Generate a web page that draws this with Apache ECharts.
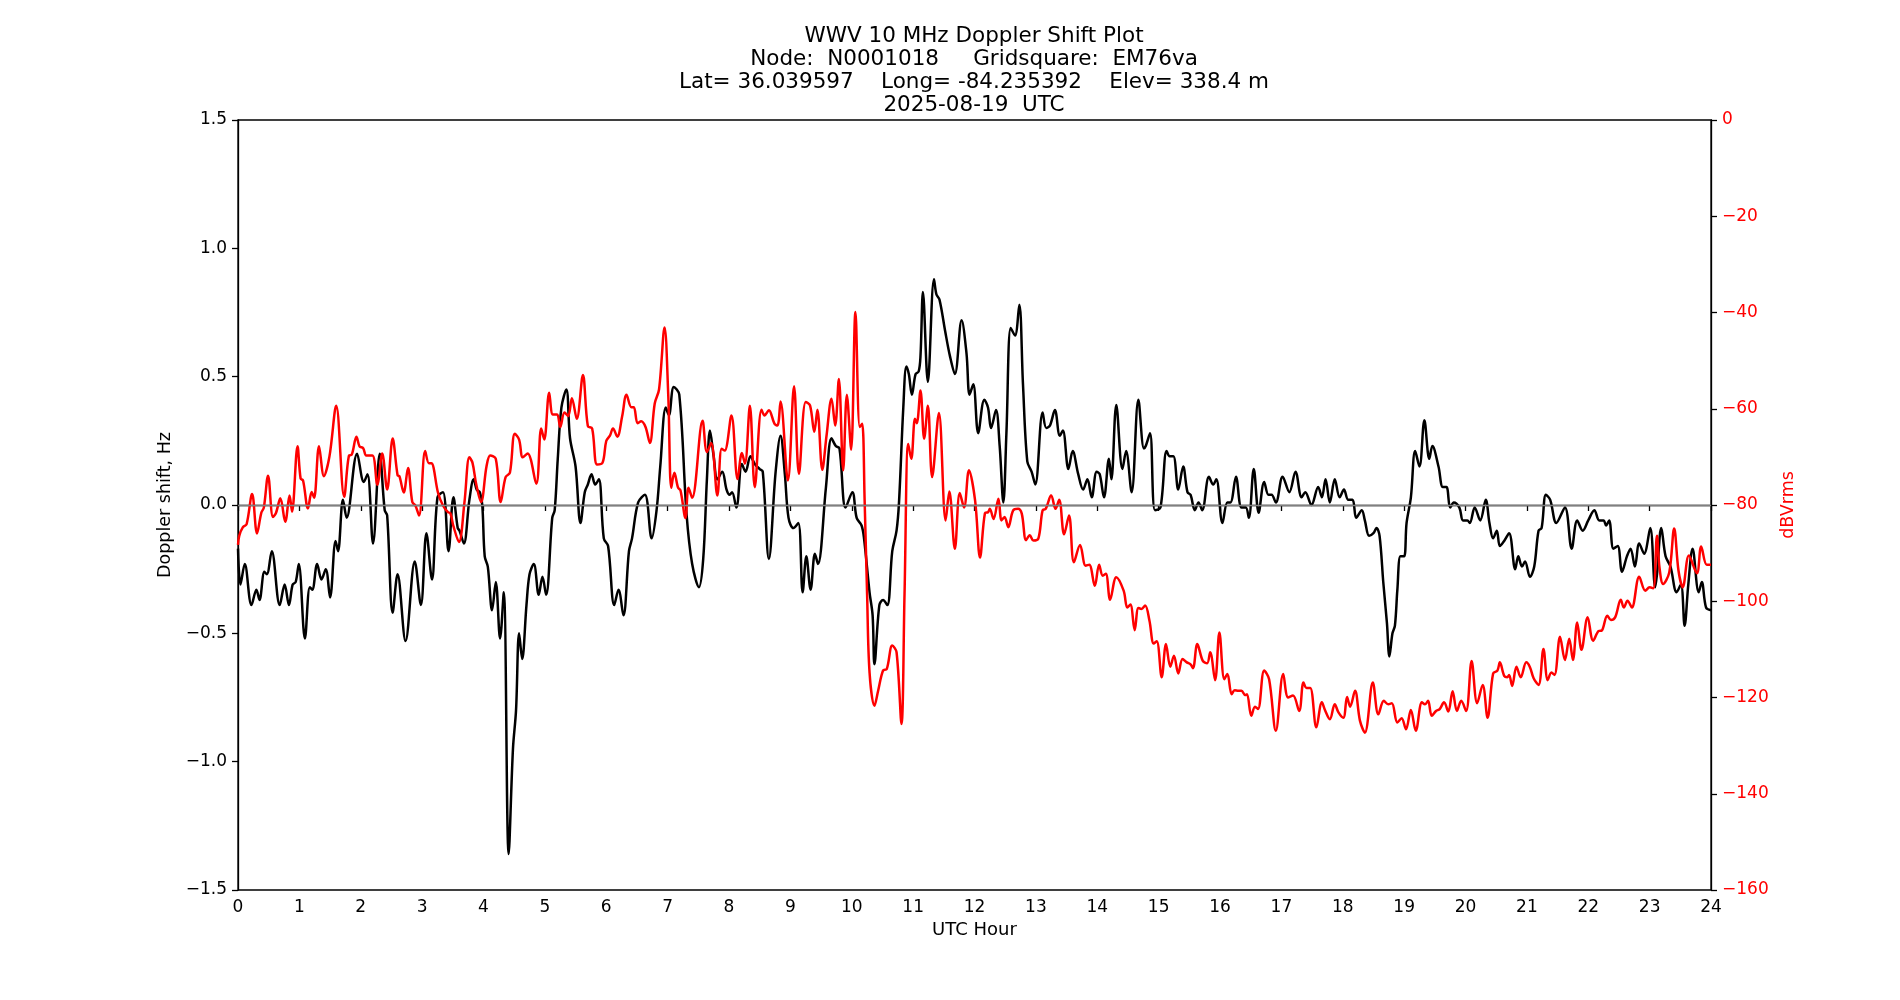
<!DOCTYPE html>
<html>
<head>
    <meta charset="utf-8" />
    <title>WWV 10 MHz Doppler Shift Plot</title>
    <script src="https://cdn.jsdelivr.net/npm/echarts@6/dist/echarts.min.js"></script>
    <style>
        html, body { margin: 0; padding: 0; background: #fff; }
        #chart { width: 1900px; height: 1000px; }
    </style>
</head>
<body>
    <div id="chart"></div>
    <script type="text/javascript">
        // 标题
        const titleLines = [
            'WWV 10 MHz Doppler Shift Plot',
            'Node:  N0001018     Gridsquare:  EM76va',
            'Lat= 36.039597    Long= -84.235392    Elev= 338.4 m',
            '2025-08-19  UTC'
        ];

        // 多普勒频移 (Hz), UTC 小时
        const dopplerTime = [
            0.00, 0.04, 0.11, 0.22, 0.30, 0.35, 0.43, 0.47, 0.55, 0.68, 0.76, 0.83, 0.89, 0.94, 0.99,
            1.09, 1.17, 1.21, 1.29, 1.36, 1.43, 1.50, 1.59, 1.63, 1.71, 1.77, 1.94,
            2.05, 2.11, 2.20, 2.31, 2.39, 2.43, 2.52, 2.60, 2.73, 2.88, 2.98,
            3.07, 3.16, 3.25, 3.34, 3.43, 3.51, 3.58, 3.61, 3.68, 3.77, 3.84, 3.89, 3.94, 3.98,
            4.02, 4.07, 4.14, 4.20, 4.27, 4.33, 4.41, 4.48, 4.53, 4.58, 4.63, 4.70, 4.75, 4.82, 4.90, 4.96,
            5.02, 5.12, 5.16, 5.21, 5.27, 5.35, 5.41, 5.50, 5.58, 5.65, 5.70, 5.76, 5.82, 5.88, 5.96,
            6.03, 6.13, 6.20, 6.28, 6.37, 6.42, 6.52, 6.63, 6.74, 6.82, 6.88, 6.97,
            7.02, 7.10, 7.19, 7.31, 7.40, 7.51, 7.58, 7.64, 7.69, 7.75, 7.81, 7.89, 7.96,
            8.01, 8.05, 8.12, 8.21, 8.27, 8.35, 8.42, 8.50, 8.55, 8.65, 8.76, 8.84, 8.91, 8.97,
            9.05, 9.13, 9.20, 9.26, 9.33, 9.40, 9.45, 9.58, 9.67, 9.74, 9.80, 9.90,
            10.01, 10.08, 10.16, 10.20, 10.29, 10.34, 10.37, 10.45, 10.51, 10.58, 10.66, 10.73, 10.77, 10.84, 10.89, 10.93, 10.98,
            11.04, 11.09, 11.12, 11.16, 11.24, 11.34, 11.38, 11.43, 11.52, 11.60, 11.68, 11.79, 11.87, 11.92, 11.98,
            12.06, 12.16, 12.22, 12.27, 12.35, 12.41, 12.47, 12.52, 12.59, 12.66, 12.73, 12.79, 12.86, 12.93, 12.99,
            13.11, 13.17, 13.23, 13.31, 13.39, 13.44, 13.53, 13.60, 13.69, 13.77, 13.84, 13.91, 13.99,
            14.04, 14.11, 14.19, 14.23, 14.31, 14.41, 14.47, 14.56, 14.67, 14.76, 14.79, 14.86, 14.94,
            15.03, 15.13, 15.18, 15.24, 15.32, 15.40, 15.47, 15.52, 15.59, 15.65, 15.71, 15.82, 15.89, 15.94,
            16.04, 16.12, 16.17, 16.26, 16.35, 16.42, 16.47, 16.55, 16.63, 16.72, 16.79, 16.84, 16.91,
            17.02, 17.13, 17.23, 17.33, 17.39, 17.49, 17.60, 17.66, 17.72, 17.79, 17.87, 17.95,
            18.02, 18.09, 18.16, 18.22, 18.31, 18.36, 18.43, 18.50, 18.55, 18.60, 18.66, 18.72, 18.76, 18.81, 18.85, 18.89, 18.94,
            19.00, 19.04, 19.11, 19.18, 19.25, 19.33, 19.41, 19.46, 19.56, 19.63, 19.69, 19.75, 19.81, 19.90, 19.96,
            20.03, 20.07, 20.15, 20.24, 20.33, 20.39, 20.45, 20.51, 20.56, 20.63, 20.71, 20.81, 20.86, 20.92, 20.97,
            21.05, 21.12, 21.19, 21.24, 21.31, 21.38, 21.48, 21.62, 21.73, 21.82, 21.91,
            22.00, 22.10, 22.18, 22.25, 22.29, 22.34, 22.41, 22.48, 22.55, 22.63, 22.69, 22.76, 22.83, 22.91,
            23.01, 23.09, 23.12, 23.19, 23.26, 23.34, 23.44, 23.51, 23.57, 23.63, 23.70, 23.80, 23.85, 23.92, 24.00
        ];
        const dopplerHz = [
            -0.17, -0.31, -0.23, -0.39, -0.33, -0.37, -0.26, -0.27, -0.18, -0.39, -0.31, -0.39, -0.31, -0.30, -0.23,
            -0.52, -0.32, -0.33, -0.23, -0.29, -0.25, -0.36, -0.14, -0.18, 0.02, -0.05, 0.20,
            0.09, 0.12, -0.15, 0.20, -0.02, -0.04, -0.42, -0.27, -0.53, -0.22, -0.39,
            -0.11, -0.29, 0.03, 0.05, -0.18, 0.03, -0.09, -0.10, -0.15, 0.02, 0.10, 0.06, 0.05, 0.00,
            -0.20, -0.24, -0.41, -0.30, -0.52, -0.34, -1.36, -0.95, -0.80, -0.50, -0.60, -0.39, -0.27, -0.23, -0.35, -0.28,
            -0.35, -0.05, -0.02, 0.18, 0.38, 0.45, 0.26, 0.15, -0.07, 0.05, 0.08, 0.12, 0.08, 0.10, -0.13,
            -0.16, -0.39, -0.33, -0.43, -0.18, -0.13, 0.01, 0.04, -0.13, -0.02, 0.15, 0.38,
            0.35, 0.46, 0.43, -0.04, -0.23, -0.32, -0.21, 0.10, 0.29, 0.19, 0.10, 0.13, 0.06,
            0.04, 0.05, -0.01, 0.16, 0.13, 0.19, 0.16, 0.14, 0.13, -0.21, 0.13, 0.27, 0.12, -0.05,
            -0.09, -0.07, -0.34, -0.20, -0.33, -0.19, -0.23, 0.07, 0.26, 0.23, 0.22, -0.01,
            0.05, -0.05, -0.08, -0.13, -0.34, -0.43, -0.62, -0.39, -0.37, -0.39, -0.18, -0.10, 0.01, 0.38, 0.54, 0.51, 0.43,
            0.51, 0.52, 0.58, 0.83, 0.48, 0.88, 0.82, 0.80, 0.68, 0.58, 0.51, 0.72, 0.59, 0.43, 0.47,
            0.28, 0.41, 0.38, 0.30, 0.37, 0.23, 0.01, 0.28, 0.69, 0.66, 0.78, 0.47, 0.17, 0.13, 0.08,
            0.36, 0.30, 0.31, 0.37, 0.27, 0.29, 0.14, 0.21, 0.12, 0.06, 0.10, 0.03, 0.13,
            0.12, 0.03, 0.18, 0.10, 0.39, 0.14, 0.21, 0.05, 0.41, 0.22, 0.23, 0.28, -0.02,
            -0.01, 0.21, 0.19, 0.19, 0.06, 0.15, 0.05, 0.04, -0.02, 0.01, -0.02, 0.11, 0.08, 0.10,
            -0.07, 0.01, 0.01, 0.11, -0.01, -0.01, -0.05, 0.14, -0.03, 0.09, 0.04, 0.04, 0.01,
            0.11, 0.05, 0.13, 0.03, 0.05, 0.00, 0.07, 0.03, 0.10, 0.01, 0.10, 0.03,
            0.06, 0.02, 0.02, -0.05, -0.02, -0.06, -0.12, -0.11, -0.09, -0.12, -0.30, -0.46, -0.59, -0.50, -0.47, -0.33, -0.20,
            -0.20, -0.07, 0.03, 0.21, 0.15, 0.33, 0.18, 0.23, 0.15, 0.07, 0.07, -0.01, 0.01, -0.01, -0.06,
            -0.06, -0.07, -0.01, -0.06, 0.02, -0.07, -0.13, -0.10, -0.16, -0.14, -0.11, -0.25, -0.20, -0.24, -0.22,
            -0.28, -0.24, -0.10, -0.09, 0.04, 0.02, -0.07, -0.01, -0.17, -0.06, -0.10,
            -0.06, -0.02, -0.06, -0.06, -0.08, -0.06, -0.17, -0.16, -0.26, -0.20, -0.17, -0.24, -0.15, -0.19,
            -0.09, -0.32, -0.27, -0.09, -0.20, -0.24, -0.34, -0.31, -0.47, -0.31, -0.17, -0.34, -0.30, -0.40, -0.41
        ];

        // 信号强度 (dBVrms), UTC 小时
        const signalTime = [
            0.00, 0.02, 0.08, 0.14, 0.23, 0.31, 0.38, 0.42, 0.49, 0.57, 0.62, 0.69, 0.77, 0.84, 0.88, 0.97,
            1.02, 1.06, 1.14, 1.20, 1.24, 1.32, 1.40, 1.49, 1.60, 1.73, 1.81, 1.85, 1.93, 1.98,
            2.04, 2.09, 2.19, 2.27, 2.35, 2.43, 2.52, 2.60, 2.63, 2.70, 2.77, 2.84, 2.89, 2.95,
            3.05, 3.11, 3.15, 3.26, 3.34, 3.42, 3.46, 3.51, 3.60, 3.69, 3.77, 3.82, 3.88, 3.96,
            4.05, 4.11, 4.20, 4.28, 4.36, 4.43, 4.51, 4.58, 4.64, 4.72, 4.86, 4.94, 4.99,
            5.07, 5.13, 5.20, 5.25, 5.32, 5.38, 5.44, 5.52, 5.62, 5.70, 5.77, 5.85, 5.94,
            6.00, 6.06, 6.11, 6.18, 6.26, 6.33, 6.41, 6.45, 6.51, 6.57, 6.64, 6.71, 6.79, 6.86, 6.95,
            7.01, 7.06, 7.11, 7.17, 7.21, 7.29, 7.34, 7.40, 7.57, 7.64, 7.71, 7.81, 7.88, 7.93,
            8.04, 8.14, 8.21, 8.26, 8.34, 8.42, 8.53, 8.58, 8.65, 8.74, 8.79, 8.84, 8.96,
            9.06, 9.14, 9.25, 9.32, 9.39, 9.44, 9.52, 9.59, 9.67, 9.73, 9.79, 9.86, 9.92, 9.99,
            10.06, 10.13, 10.17, 10.21, 10.25, 10.29, 10.37, 10.43, 10.51, 10.57, 10.66, 10.73, 10.81, 10.86, 10.92, 10.97,
            11.03, 11.06, 11.12, 11.18, 11.24, 11.31, 11.42, 11.53, 11.59, 11.68, 11.76, 11.83, 11.91,
            12.01, 12.09, 12.17, 12.22, 12.25, 12.31, 12.39, 12.44, 12.49, 12.55, 12.63, 12.71, 12.77, 12.84, 12.90, 12.96,
            13.04, 13.11, 13.16, 13.25, 13.32, 13.38, 13.46, 13.54, 13.62, 13.72, 13.81, 13.87, 13.96,
            14.03, 14.09, 14.14, 14.21, 14.31, 14.43, 14.49, 14.54, 14.61, 14.67, 14.72, 14.78, 14.85, 14.92, 14.97,
            15.05, 15.12, 15.19, 15.25, 15.32, 15.39, 15.46, 15.52, 15.56, 15.63, 15.72, 15.79, 15.84, 15.92, 15.99,
            16.07, 16.12, 16.19, 16.24, 16.30, 16.35, 16.41, 16.44, 16.51, 16.57, 16.62, 16.72, 16.80, 16.91,
            17.03, 17.11, 17.19, 17.29, 17.36, 17.41, 17.47, 17.57, 17.66, 17.71, 17.79, 17.87, 17.93,
            18.01, 18.07, 18.12, 18.20, 18.28, 18.36, 18.49, 18.58, 18.67, 18.74, 18.80, 18.89, 18.96,
            19.03, 19.11, 19.19, 19.29, 19.34, 19.39, 19.45, 19.52, 19.58, 19.65, 19.72, 19.79, 19.86, 19.93,
            20.01, 20.10, 20.19, 20.28, 20.36, 20.45, 20.52, 20.56, 20.63, 20.68, 20.71, 20.76, 20.83, 20.90, 20.99,
            21.05, 21.11, 21.19, 21.27, 21.34, 21.40, 21.45, 21.54, 21.62, 21.69, 21.75, 21.82, 21.89, 21.99,
            22.08, 22.17, 22.22, 22.31, 22.37, 22.44, 22.53, 22.58, 22.64, 22.71, 22.83, 22.93,
            23.00, 23.06, 23.12, 23.16, 23.22, 23.32, 23.40, 23.47, 23.54, 23.64, 23.77, 23.84, 23.93, 24.00
        ];
        const signalDb = [
            -88.3, -86.4, -84.6, -84.0, -77.7, -85.9, -81.6, -80.6, -73.9, -82.5, -81.6, -78.6, -83.5, -78.0, -81.4, -67.8,
            -74.5, -74.9, -80.7, -77.3, -78.5, -67.8, -74.0, -69.9, -59.4, -78.3, -69.7, -69.6, -65.8, -67.8,
            -68.2, -69.7, -69.7, -75.8, -69.3, -76.8, -66.2, -73.8, -74.0, -77.4, -72.3, -79.4, -80.1, -82.2,
            -68.8, -71.3, -71.3, -77.5, -80.1, -81.5, -81.7, -84.4, -87.7, -79.4, -70.1, -71.2, -75.6, -79.4,
            -71.9, -69.7, -70.4, -79.4, -74.2, -73.3, -65.2, -66.4, -70.1, -69.3, -75.6, -64.1, -66.4,
            -56.7, -61.2, -61.2, -63.8, -60.8, -61.5, -57.8, -62.1, -53.0, -63.6, -64.1, -71.6, -71.2,
            -66.7, -65.6, -64.1, -65.8, -61.5, -57.1, -59.7, -59.7, -63.0, -62.6, -63.8, -67.1, -58.9, -56.0, -43.1,
            -57.1, -76.4, -73.3, -76.4, -77.0, -82.7, -76.4, -78.5, -62.5, -69.0, -67.1, -78.0, -68.3, -68.7,
            -61.4, -74.6, -69.2, -71.4, -59.4, -76.3, -60.2, -61.4, -60.3, -63.1, -63.5, -58.5, -74.9,
            -55.3, -73.5, -58.6, -59.3, -64.8, -60.2, -72.7, -65.5, -57.9, -63.5, -53.8, -72.8, -57.1, -68.5,
            -39.9, -63.8, -63.1, -79.1, -98.5, -114.8, -121.7, -118.6, -114.4, -114.1, -109.2, -110.6, -125.5, -98.5, -67.3, -70.4,
            -62.1, -63.0, -56.2, -66.2, -59.4, -74.2, -60.9, -83.2, -77.2, -89.1, -77.5, -80.5, -72.8,
            -79.1, -90.9, -81.7, -81.5, -80.8, -82.9, -78.7, -83.2, -82.5, -84.6, -81.1, -80.8, -81.8, -87.3, -86.3, -87.4,
            -87.0, -81.1, -80.8, -78.0, -80.8, -78.9, -86.1, -82.2, -91.9, -88.3, -92.6, -92.4, -96.8,
            -92.4, -94.7, -94.3, -99.7, -95.0, -97.8, -101.3, -100.7, -106.0, -101.4, -101.6, -100.9, -104.0, -108.8, -108.3,
            -115.8, -108.9, -113.6, -111.3, -115.0, -112.0, -112.7, -113.1, -113.9, -108.9, -112.4, -112.9, -110.6, -116.4, -106.5,
            -116.2, -115.1, -119.3, -118.5, -118.6, -118.6, -119.5, -119.3, -123.8, -121.9, -122.4, -114.4, -116.2, -126.9,
            -115.1, -120.0, -119.6, -122.8, -116.9, -118.0, -118.0, -126.2, -121.0, -122.6, -124.5, -121.4, -123.1,
            -124.2, -119.9, -121.9, -118.6, -124.8, -127.3, -116.9, -123.5, -120.7, -121.4, -121.2, -125.2, -124.3,
            -126.6, -122.6, -126.9, -121.0, -121.4, -120.7, -123.8, -122.8, -122.4, -121.0, -122.9, -118.7, -122.8, -120.7,
            -122.8, -112.4, -121.2, -117.4, -124.2, -115.0, -114.4, -112.7, -115.5, -115.8, -115.3, -117.6, -113.6, -115.8, -112.7,
            -113.7, -116.0, -117.4, -109.9, -116.4, -114.8, -115.3, -107.4, -112.2, -107.8, -112.2, -104.4, -110.1, -103.3,
            -108.2, -106.2, -106.1, -103.0, -103.9, -103.3, -99.7, -101.3, -99.9, -101.3, -94.9, -97.8,
            -97.1, -97.3, -86.4, -92.9, -96.4, -94.0, -84.9, -93.6, -97.1, -90.5, -94.2, -88.6, -92.4, -92.4
        ];

        const hourTicks = [0, 24, 1];
        const dopplerTicks = [-1.5, 1.5, 0.5];
        const dbTicks = [-160, 0, 20];

        const FONT = 'DejaVu Sans';
        const minus = function (v, digits) {
            const s = digits ? Math.abs(v).toFixed(digits) : String(Math.abs(v));
            return v < 0 ? '\u2212' + s : s;
        };

        const dopplerData = dopplerTime.map(function (t, i) { return [t, dopplerHz[i]]; });
        const signalData = signalTime.map(function (t, i) { return [t, signalDb[i]]; });

        const chart = echarts.init(document.getElementById('chart'));
        const option = {
            animation: false,
            backgroundColor: '#ffffff',
            title: {
                text: titleLines.join('\n'),
                left: 974,
                top: 25,
                textAlign: 'center',
                padding: 0,
                textStyle: {
                    fontFamily: FONT,
                    fontSize: 21.5,
                    fontWeight: 'normal',
                    color: '#000',
                    lineHeight: 23
                }
            },
            grid: {
                left: 238,
                right: 189,
                top: 120,
                bottom: 110,
                show: true,
                borderColor: '#000',
                borderWidth: 1.3,
                backgroundColor: 'transparent'
            },
            xAxis: {
                type: 'value',
                min: hourTicks[0],
                max: hourTicks[1],
                interval: hourTicks[2],
                name: 'UTC Hour',
                nameLocation: 'middle',
                nameGap: 31,
                nameTextStyle: { fontFamily: FONT, fontSize: 18, color: '#000' },
                axisLine: { show: true, lineStyle: { color: '#000', width: 1.3 } },
                axisTick: { show: true, length: 6, lineStyle: { color: '#000', width: 1.3 } },
                axisLabel: { fontFamily: FONT, fontSize: 17, color: '#000', margin: 9 },
                splitLine: { show: false }
            },
            yAxis: [
                {
                    type: 'value',
                    position: 'left',
                    min: dopplerTicks[0],
                    max: dopplerTicks[1],
                    interval: dopplerTicks[2],
                    name: 'Doppler shift, Hz',
                    nameLocation: 'middle',
                    nameRotate: 90,
                    nameGap: 63,
                    nameTextStyle: { fontFamily: FONT, fontSize: 17.5, color: '#000' },
                    axisLine: { show: true, lineStyle: { color: '#000', width: 1.3 } },
                    axisTick: { show: true, length: 6, lineStyle: { color: '#000', width: 1.3 } },
                    axisLabel: {
                        fontFamily: FONT, fontSize: 17, color: '#000', margin: 11,
                        formatter: function (v) { return minus(v, 1); }
                    },
                    splitLine: { show: false }
                },
                {
                    type: 'value',
                    position: 'right',
                    min: dbTicks[0],
                    max: dbTicks[1],
                    interval: dbTicks[2],
                    name: 'dBVrms',
                    nameLocation: 'middle',
                    nameRotate: 90,
                    nameGap: 66,
                    nameTextStyle: { fontFamily: FONT, fontSize: 17.5, color: '#ff0000' },
                    axisLine: { show: true, lineStyle: { color: '#000', width: 1.3 } },
                    axisTick: { show: true, length: 6, lineStyle: { color: '#000', width: 1.3 } },
                    axisLabel: {
                        fontFamily: FONT, fontSize: 17, color: '#ff0000', margin: 11,
                        formatter: function (v) { return minus(v, 0); }
                    },
                    splitLine: { show: false }
                }
            ],
            series: [
                {
                    name: 'Doppler shift',
                    type: 'line',
                    yAxisIndex: 0,
                    data: dopplerData,
                    smooth: 0.35,
                    showSymbol: false,
                    lineStyle: { color: '#000', width: 2.5 },
                    z: 2,
                    markLine: {
                        silent: true,
                        symbol: 'none',
                        label: { show: false },
                        lineStyle: { color: '#808080', width: 1.3, type: 'solid' },
                        data: [{ yAxis: 0 }]
                    }
                },
                {
                    name: 'dBVrms',
                    type: 'line',
                    yAxisIndex: 1,
                    data: signalData,
                    smooth: 0.35,
                    showSymbol: false,
                    lineStyle: { color: '#ff0000', width: 2.5 },
                    z: 3
                }
            ]
        };
        chart.setOption(option);
    </script>
</body>
</html>
